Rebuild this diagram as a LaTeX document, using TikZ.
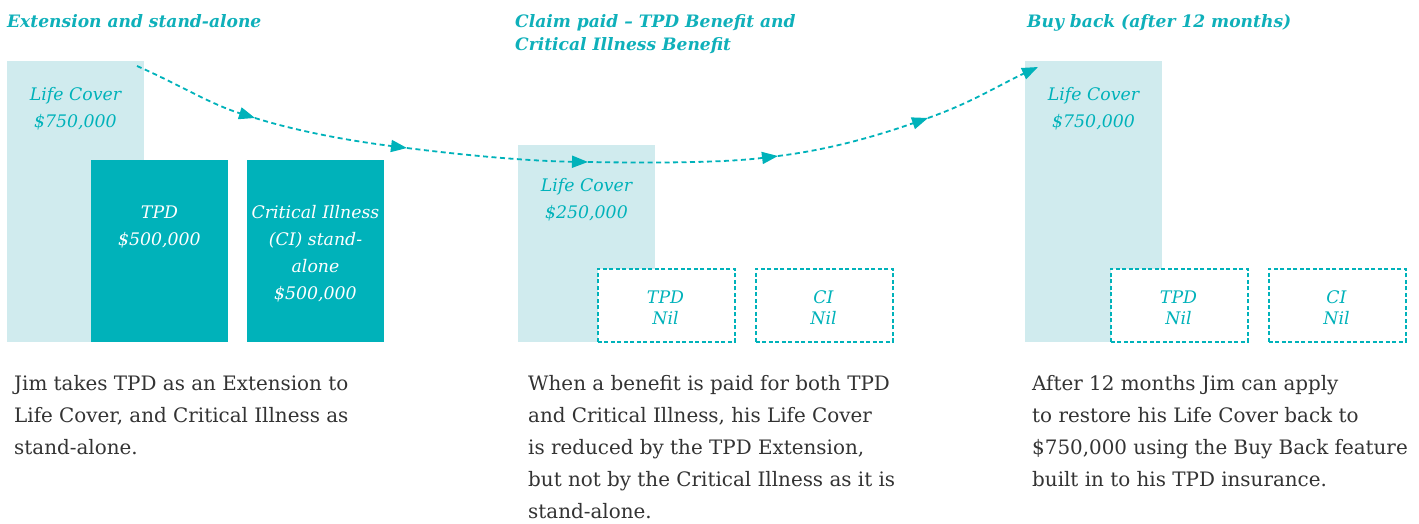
\documentclass[tikz,border=0pt]{standalone}
\usepackage{fontspec}
\setmainfont{DejaVu Serif}
\usetikzlibrary{arrows.meta}
\definecolor{teal1}{HTML}{00B2BA}
\definecolor{lightteal}{HTML}{D0EBEE}
\definecolor{headteal}{HTML}{0FB0BA}
\definecolor{bodygray}{HTML}{333333}
\tikzset{
 heading/.style={anchor=base west, inner sep=0pt, align=left, text=headteal, font=\fontsize{17.1}{23}\selectfont\bfseries\itshape},
 body/.style={anchor=base west, inner sep=0pt, align=left, text=bodygray, font=\fontsize{19.9}{32}\selectfont},
 lightbox/.style={fill=lightteal, draw=none, anchor=north west, inner sep=0pt, minimum width=137pt},
 darkbox/.style={fill=teal1, draw=none, anchor=north west, inner sep=0pt, minimum width=137pt, minimum height=182pt},
 nilbox/.style={draw=teal1, fill=white, dash pattern=on 4pt off 2.5pt, line width=1.8pt, anchor=north west, inner sep=0pt, minimum width=137pt, minimum height=73pt},
 lightlabel/.style={anchor=base, inner sep=0pt, align=center, text=teal1, font=\fontsize{17.3}{27}\selectfont\itshape},
 darklabel/.style={lightlabel, text=white},
 nillabel/.style={lightlabel, font=\fontsize{17.3}{21}\selectfont\itshape},
 flow/.style={draw=teal1, line width=1.8pt, dash pattern=on 5pt off 3.5pt, -{Triangle[length=16pt,width=12pt]}},
}
\begin{document}
\begin{tikzpicture}[x=1pt,y=-1pt]
\useasboundingbox (0,0) rectangle (1419,523);
% (multi-line nodes are placed at the baseline of their last line)
% panel 1
\node[heading] (h1) at (7,27) {Extension and stand-alone};
\node[lightbox, minimum height=281pt] (lc1) at (7,61) {};
\node[darkbox] (tpd1) at (91,160) {};
\node[darkbox] (ci1) at (247,160) {};
\node[lightlabel] (lc1t) at (75.5,127) {Life Cover\\\$750,000};
\node[darklabel] (tpd1t) at (159.5,245) {TPD\\\$500,000};
\node[darklabel] (ci1t) at (315.5,299) {Critical Illness\\(CI) stand-\\alone\\\$500,000};
\node[body] (b1) at (14,454) {Jim takes TPD as an Extension to\\Life Cover, and Critical Illness as\\stand-alone.};
% panel 2
\node[heading] (h2) at (515,50) {Claim paid – TPD Benefit and\\Critical Illness Benefit};
\node[lightbox, minimum height=197pt] (lc2) at (518,145) {};
\node[nilbox] (tpd2) at (597,268) {};
\node[nilbox] (ci2) at (755,268) {};
\node[lightlabel] (lc2t) at (586.5,218) {Life Cover\\\$250,000};
\node[nillabel] (tpd2t) at (665.5,324) {TPD\\Nil};
\node[nillabel] (ci2t) at (823.5,324) {CI\\Nil};
\node[body] (b2) at (528,518) {When a benefit is paid for both TPD\\and Critical Illness, his Life Cover\\is reduced by the TPD Extension,\\but not by the Critical Illness as it is\\stand-alone.};
% panel 3
\node[heading] (h3) at (1027,27) {Buy back (after 12 months)};
\node[lightbox, minimum height=281pt] (lc3) at (1025,61) {};
\node[nilbox] (tpd3) at (1110,268) {};
\node[nilbox] (ci3) at (1268,268) {};
\node[lightlabel] (lc3t) at (1093.5,127) {Life Cover\\\$750,000};
\node[nillabel] (tpd3t) at (1178.5,324) {TPD\\Nil};
\node[nillabel] (ci3t) at (1336.5,324) {CI\\Nil};
\node[body] (b3) at (1032,486) {After 12 months Jim can apply\\to restore his Life Cover back to\\\$750,000 using the Buy Back feature\\built in to his TPD insurance.};
% flow arrow
\coordinate (p0) at (137,66);
\coordinate (p1) at (255,118);
\coordinate (p2) at (407,148);
\coordinate (p3) at (588,162);
\coordinate (p4) at (778,156);
\coordinate (p5) at (928,118);
\coordinate (p6) at (1038,67);
\draw[flow] (p0) .. controls (176,83) and (210,104) .. (p1);
\draw[flow] (p1) .. controls (300,132) and (351.5,141) .. (p2);
\draw[flow] (p2) .. controls (462.5,155) and (526,161) .. (p3);
\draw[flow] (p3) .. controls (650,163) and (721,163) .. (p4);
\draw[flow] (p4) .. controls (835,149) and (885,133) .. (p5);
\draw[flow] (p5) .. controls (971,103) and (1001,84) .. (p6);
\end{tikzpicture}
\end{document}
